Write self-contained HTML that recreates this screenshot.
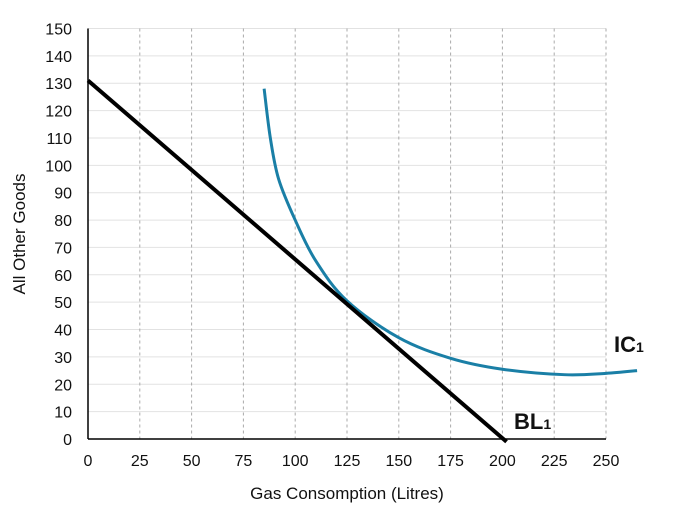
<!DOCTYPE html>
<html><head><meta charset="utf-8"><style>
body{margin:0;background:#fff;}
svg{display:block;font-family:"Liberation Sans",sans-serif;}
</style></head><body>
<svg id="c" width="681" height="525"></svg>
<script>
const xTicks=[0,25,50,75,100,125,150,175,200,225,250];
const yTicks=[0,10,20,30,40,50,60,70,80,90,100,110,120,130,140,150];
const blX=[0,202];
const blY=[131,-1];
const icX=[85,88,92,100,110,125,150,175,200,230,250,265];
const icY=[128,110,95,80,65,50.5,37,29.5,25.5,23.5,24,25];
const NS='http://www.w3.org/2000/svg';
const svg=document.getElementById('c');
const X0=88,X1=606,Y0=439,Y1=28.5;
const sx=v=>X0+(v-0)/(250)*(X1-X0);
const sy=v=>Y0-(v/150)*(Y0-Y1);
function mk(t,a,p){const e=document.createElementNS(NS,t);for(const k in a)e.setAttribute(k,a[k]);(p||svg).appendChild(e);return e;}
yTicks.forEach(v=>{
 if(v>0){const l=mk('line',{x1:X0,x2:X1,y1:sy(v),y2:sy(v),stroke:'#e2e2e2','stroke-width':1});
 
 }
 const t=mk('text',{x:72,y:sy(v)+6,'text-anchor':'end','font-size':16,fill:'#111'});t.textContent=v;
 
 
});
xTicks.forEach(v=>{
 if(v>0){const l=mk('line',{x1:sx(v),x2:sx(v),y1:Y1,y2:Y0,stroke:'#aaa','stroke-width':1,'stroke-dasharray':'3,3'});
 
 }
 const t=mk('text',{x:sx(v),y:466,'text-anchor':'middle','font-size':16,fill:'#111'});t.textContent=v;
 
 
});
let a=mk('line',{x1:X0,x2:X0,y1:Y1,y2:Y0,stroke:'#000','stroke-width':1.5});


a=mk('line',{x1:X0,x2:X1,y1:Y0,y2:Y0,stroke:'#000','stroke-width':1.5});


let t=mk('text',{x:347,y:499,'text-anchor':'middle','font-size':17,fill:'#111'});t.textContent='Gas Consomption (Litres)';


t=mk('text',{x:25,y:234,'text-anchor':'middle','font-size':17,fill:'#111',transform:'rotate(-90 25 234)'});t.textContent='All Other Goods';


// IC curve (Catmull-Rom)
const P=icX.map((x,i)=>[sx(x),sy(icY[i])]);
let d='M'+P[0][0]+','+P[0][1];
for(let i=0;i<P.length-1;i++){const p0=P[i-1]||P[i],p1=P[i],p2=P[i+1],p3=P[i+2]||P[i+1];
 d+=` C${p1[0]+(p2[0]-p0[0])/6},${p1[1]+(p2[1]-p0[1])/6} ${p2[0]-(p3[0]-p1[0])/6},${p2[1]-(p3[1]-p1[1])/6} ${p2[0]},${p2[1]}`;}
const ic=mk('path',{d:d,fill:'none',stroke:'#1a7fa6','stroke-width':3});


const bl=mk('line',{x1:sx(blX[0]),y1:sy(blY[0]),x2:sx(blX[1]),y2:sy(blY[1]),stroke:'#000','stroke-width':4});


function lab(x,y,m,s,n){const g=mk('text',{x:x,y:y,'font-size':22,'font-weight':'bold',fill:'#111'});
 g.textContent=m;const ts=mk('tspan',{'font-size':14},g);ts.textContent=s;
 
 }
lab(514,429,'BL','1','bl1-label');
lab(614,352,'IC','1','ic1-label');
</script>
</body></html>
